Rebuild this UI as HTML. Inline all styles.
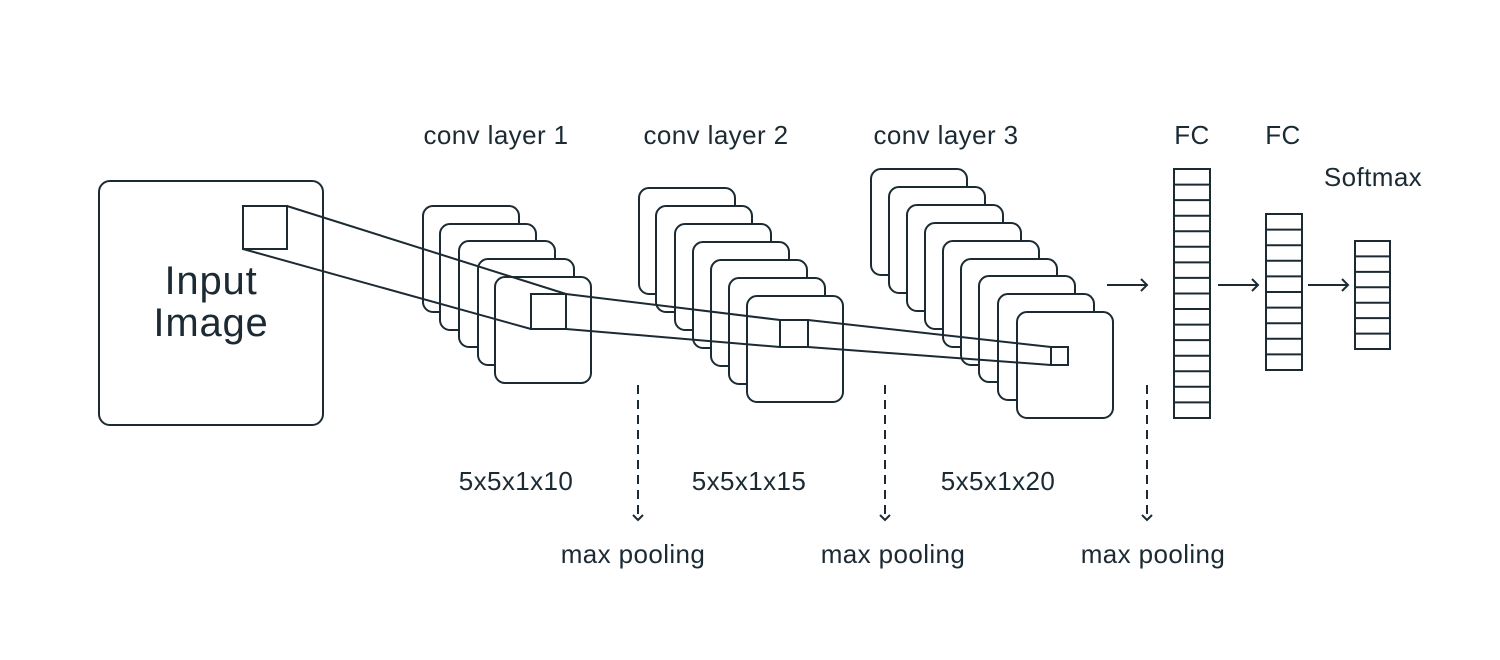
<!DOCTYPE html>
<html><head><meta charset="utf-8"><style>
html,body{margin:0;padding:0;background:#fff;}
svg{display:block}
text{font-family:"Liberation Sans",sans-serif;fill:#1b2a33;}
</style></head><body>
<svg width="1500" height="660" viewBox="0 0 1500 660" xmlns="http://www.w3.org/2000/svg">
<g fill="#fff" stroke="#1b2a33" stroke-width="2">
<rect x="99" y="181" width="224" height="244" rx="11"/>
<rect x="243" y="206" width="44" height="43"/>
<rect x="423" y="206" width="96" height="106" rx="10"/>
<rect x="440" y="224" width="96" height="106" rx="10"/>
<rect x="459" y="241" width="96" height="106" rx="10"/>
<rect x="478" y="259" width="96" height="106" rx="10"/>
<rect x="495" y="277" width="96" height="106" rx="10"/>
<rect x="531" y="294" width="35" height="35"/>
<rect x="639" y="188" width="96" height="106" rx="10"/>
<rect x="656" y="206" width="96" height="106" rx="10"/>
<rect x="675" y="224" width="96" height="106" rx="10"/>
<rect x="693" y="242" width="96" height="106" rx="10"/>
<rect x="711" y="260" width="96" height="106" rx="10"/>
<rect x="729" y="278" width="96" height="106" rx="10"/>
<rect x="747" y="296" width="96" height="106" rx="10"/>
<rect x="780" y="320" width="28" height="27"/>
<rect x="871" y="169" width="96" height="106" rx="10"/>
<rect x="889" y="187" width="96" height="106" rx="10"/>
<rect x="907" y="205" width="96" height="106" rx="10"/>
<rect x="925" y="223" width="96" height="106" rx="10"/>
<rect x="943" y="241" width="96" height="106" rx="10"/>
<rect x="961" y="259" width="96" height="106" rx="10"/>
<rect x="979" y="276" width="96" height="106" rx="10"/>
<rect x="998" y="294" width="96" height="106" rx="10"/>
<rect x="1017" y="312" width="96" height="106" rx="10"/>
<rect x="1051" y="347" width="17" height="18"/>
<rect x="1174" y="169" width="36" height="249"/>
<rect x="1266" y="214" width="36" height="156"/>
<rect x="1355" y="241" width="35" height="108"/>
</g>
<g fill="none" stroke="#1b2a33" stroke-width="2">
<path d="M287 206L566 294M243 249L531 329M566 294L780 320M566 329L780 347M808 320L1051 347M808 347L1051 365"/>
<path d="M1174 184.6h36M1174 200.1h36M1174 215.7h36M1174 231.2h36M1174 246.8h36M1174 262.4h36M1174 277.9h36M1174 293.5h36M1174 309h36M1174 324.6h36M1174 340.1h36M1174 355.7h36M1174 371.2h36M1174 386.8h36M1174 402.4h36"/>
<path d="M1266 229.6h36M1266 245.2h36M1266 260.8h36M1266 276.4h36M1266 292h36M1266 307.6h36M1266 323.2h36M1266 338.8h36M1266 354.4h36"/>
<path d="M1355 256.4h35M1355 271.9h35M1355 287.3h35M1355 302.7h35M1355 318.1h35M1355 333.6h35"/>
<path d="M1107 285h40M1141 279l6 6-6 6M1218 285h40M1252 279l6 6-6 6M1308 285h40M1342 279l6 6-6 6"/>
<path d="M638 385V518M885 385V518M1147 385V518" stroke-dasharray="9 6"/>
<path d="M633 515l5 5 5-5M880 515l5 5 5-5M1142 515l5 5 5-5"/>
</g>
<g font-size="26" letter-spacing="0.4">
<text x="496" y="144" text-anchor="middle">conv layer 1</text>
<text x="716" y="144" text-anchor="middle">conv layer 2</text>
<text x="946" y="144" text-anchor="middle">conv layer 3</text>
<text x="1192" y="144" text-anchor="middle">FC</text>
<text x="1283" y="144" text-anchor="middle">FC</text>
<text x="1373" y="186" text-anchor="middle">Softmax</text>
<text x="516" y="490" text-anchor="middle">5x5x1x10</text>
<text x="749" y="490" text-anchor="middle">5x5x1x15</text>
<text x="998" y="490" text-anchor="middle">5x5x1x20</text>
<text x="633" y="563" text-anchor="middle">max pooling</text>
<text x="893" y="563" text-anchor="middle">max pooling</text>
<text x="1153" y="563" text-anchor="middle">max pooling</text>
</g>
<g font-size="40" letter-spacing="0.8">
<text x="211" y="294" text-anchor="middle">Input</text>
<text x="211" y="336" text-anchor="middle">Image</text>
</g>
</svg>
</body></html>
